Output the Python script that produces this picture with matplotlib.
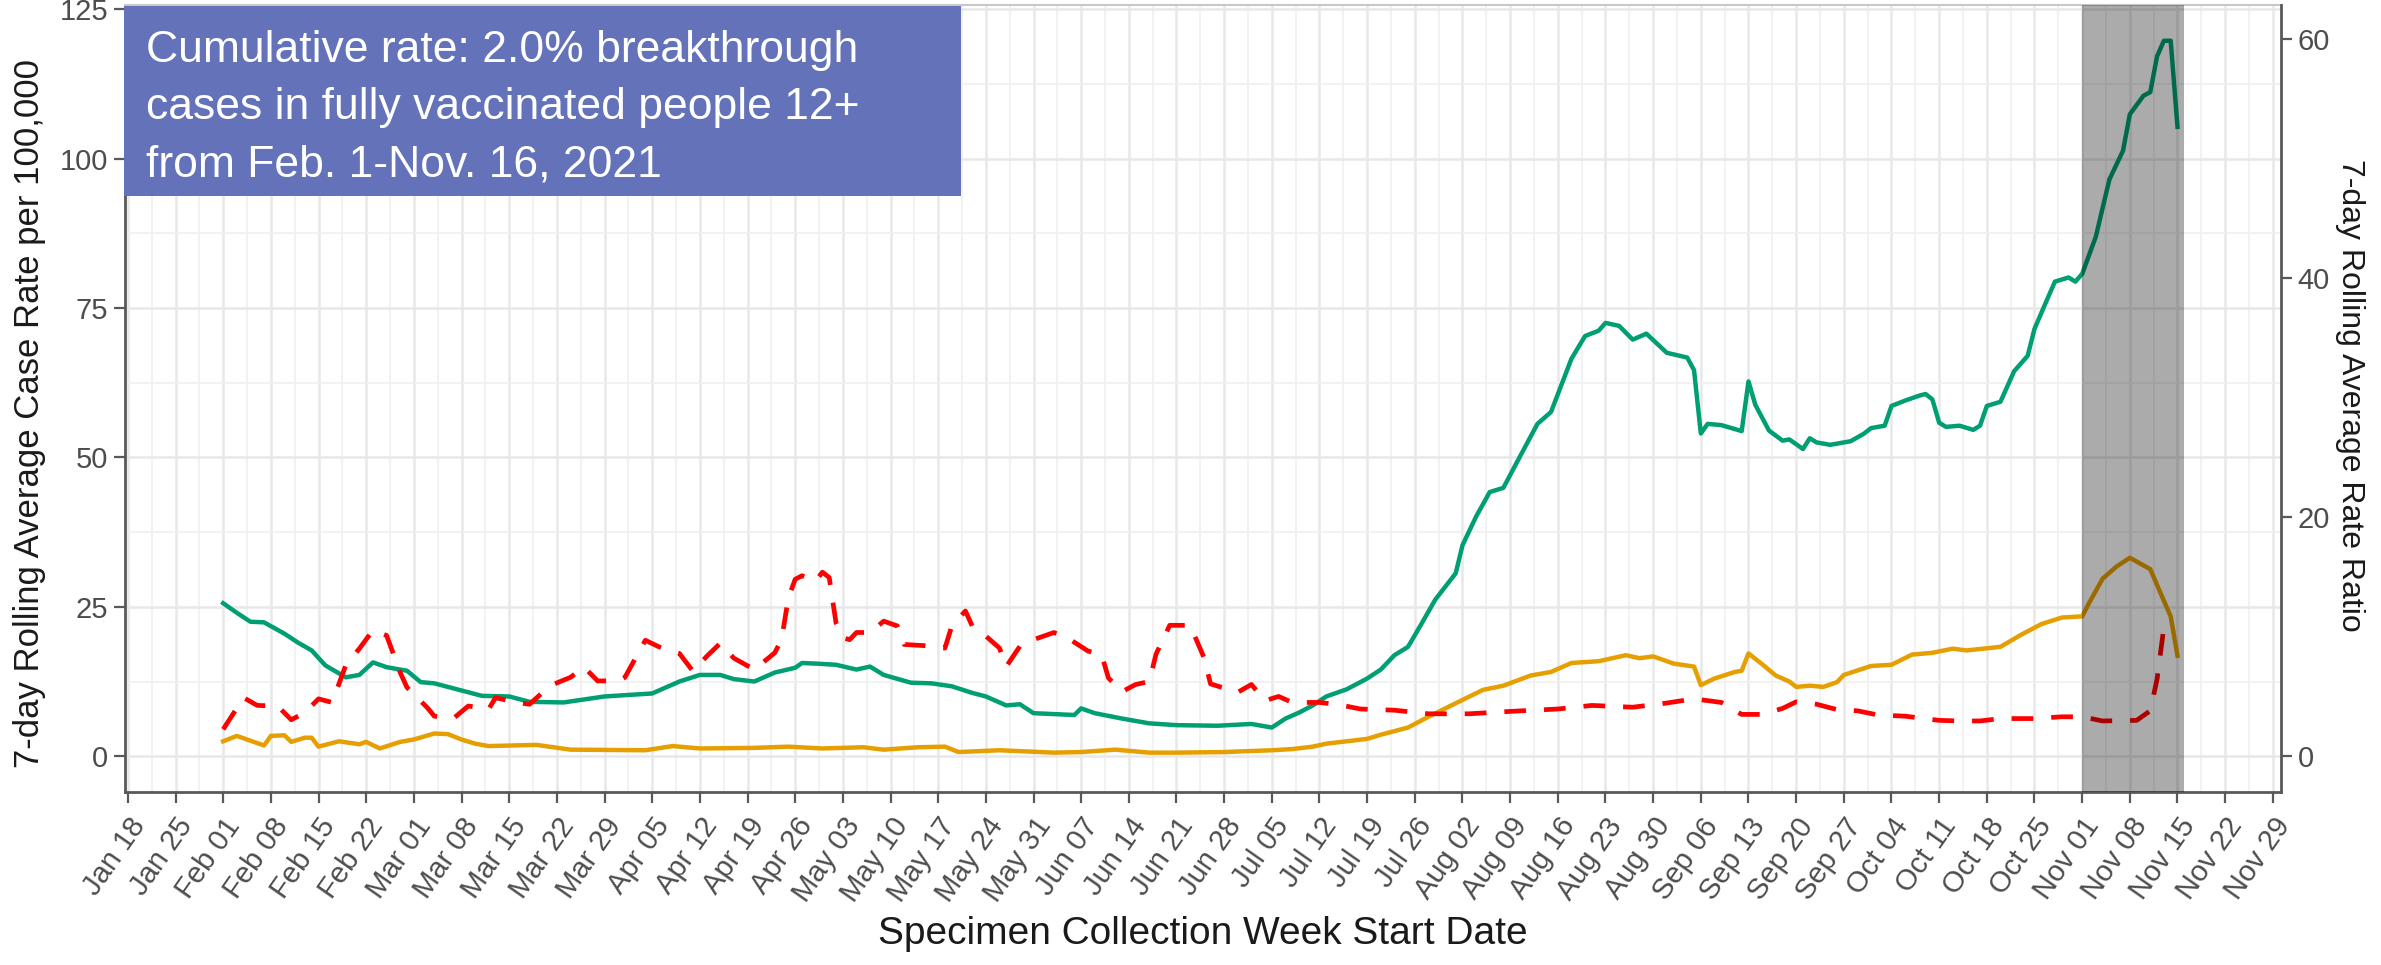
import matplotlib
matplotlib.use('Agg')
import matplotlib.pyplot as plt
import matplotlib.transforms as mtransforms
from matplotlib.patches import Rectangle
import pandas as pd

plt.rcParams['font.family'] = ['Liberation Sans', 'DejaVu Sans']

BASE = pd.Timestamp('2021-01-18')

# ---- data (x = days since 2021-01-18) ----
green_day = [14,16,18,20,23,25,27,29,32,34,36,38,41,43,45,49,52,56,59,64,
             70,77,81,84,87,89,92,95,98,99,101,104,107,109,111,115,118,121,124,126,
             129,131,133,139,140,142,146,150,154,160,165,168,170,172,174,176,179,182,184,186,
             188,190,192,195,196,198,200,202,204,207,209,212,214,216,217,219,221,223,226,229,
             230,231,232,234,237,238,239,241,243,244,246,247,248,250,253,255,256,258,259,261,
             263,264,265,266,267,269,271,272,273,275,277,279,280,282,283,285,286,287,289,291,
             293,294,296,297,298,299,300,301]
green_rate = [25.6,24.0,22.5,22.4,20.5,19.0,17.7,15.2,13.2,13.6,15.7,14.9,14.3,12.4,12.2,11.0,10.1,10.0,9.1,9.0,
              10.0,10.5,12.5,13.6,13.6,12.9,12.5,14.0,14.8,15.6,15.5,15.3,14.5,15.0,13.6,12.3,12.2,11.7,10.6,10.0,
              8.5,8.7,7.2,6.9,8.0,7.2,6.3,5.5,5.2,5.1,5.4,4.8,6.3,7.3,8.5,10.0,11.2,13.0,14.5,16.9,
              18.3,22.2,26.2,30.6,35.3,40.1,44.2,44.9,49.2,55.6,57.6,66.5,70.3,71.2,72.5,72.0,69.7,70.7,67.5,66.7,
              64.6,54.0,55.6,55.4,54.4,62.7,58.8,54.5,52.8,53.0,51.4,53.2,52.5,52.1,52.7,54.0,54.9,55.3,58.6,59.5,
              60.3,60.6,59.7,55.8,55.1,55.3,54.6,55.3,58.6,59.3,64.4,67.0,71.5,76.8,79.4,80.1,79.4,80.7,86.9,96.5,
              101.3,107.4,110.5,111.1,117.1,119.7,119.7,105.3]

orange_day = [14,16,18,20,21,23,24,26,27,28,31,34,35,37,40,42,45,47,49,51,
              53,60,65,76,80,84,92,97,102,108,111,116,120,122,128,136,140,145,150,154,
              161,168,171,174,176,182,184,188,191,194,199,202,206,209,212,216,220,222,224,227,
              230,231,233,236,237,238,240,242,244,245,247,249,251,252,256,259,262,265,268,270,
              275,278,281,284,287,288,290,292,294,297,299,300,301]
orange_rate = [2.5,3.4,2.6,1.8,3.4,3.5,2.4,3.1,3.1,1.6,2.5,2.0,2.4,1.3,2.4,2.8,3.8,3.7,2.8,2.1,
               1.7,1.9,1.1,1.0,1.7,1.3,1.4,1.6,1.3,1.5,1.1,1.5,1.6,0.7,1.0,0.6,0.7,1.1,0.6,0.6,
               0.7,1.0,1.2,1.6,2.1,2.9,3.6,4.8,6.6,8.3,11.1,11.8,13.5,14.1,15.6,15.9,16.9,16.4,16.7,15.5,
               15.0,11.9,13.0,14.1,14.3,17.2,15.4,13.5,12.5,11.6,11.8,11.6,12.4,13.6,15.1,15.3,17.0,17.3,18.0,17.7,
               18.3,20.3,22.1,23.2,23.4,25.6,29.7,31.7,33.2,31.3,26.0,23.4,16.8]

red_day = [14,17,19,22,24,26,28,30,32,34,36,38,40,41,44,45,48,50,53,54,
           57,59,62,65,67,69,72,73,76,78,81,83,85,87,89,92,95,96,97,98,
           99,101,102,103,104,105,106,107,109,111,113,114,117,120,121,123,124,126,128,129,
           131,133,136,138,141,143,144,146,148,150,151,153,156,158,159,163,165,167,169,171,
           175,178,181,186,191,197,203,210,215,221,226,230,234,237,240,243,245,248,251,254,
           257,261,266,269,272,275,280,284,287,290,295,297,298,299]
red_ratio = [2.25,4.9,4.25,4.2,3.05,3.65,4.8,4.5,7.6,9.0,10.55,10.1,7.0,5.75,4.05,3.35,3.25,4.2,3.95,4.9,
             4.5,4.35,5.9,6.6,7.45,6.3,6.3,6.6,9.7,9.15,8.6,7.1,8.35,9.45,8.2,7.25,8.65,9.75,13.25,14.8,
             15.1,14.65,15.4,14.95,11.15,9.9,9.75,10.35,10.35,11.3,10.9,9.35,9.25,9.05,10.9,12.15,10.9,10.05,9.05,7.5,
             9.2,9.75,10.35,9.9,8.8,8.5,6.55,5.4,6.0,6.25,8.55,10.95,10.95,8.3,6.05,5.35,6.0,4.65,5.0,4.5,
             4.5,4.3,3.95,3.85,3.55,3.55,3.75,3.95,4.25,4.1,4.45,4.8,4.5,3.5,3.5,4.0,4.55,4.35,3.9,3.8,
             3.45,3.35,3.0,2.95,2.95,3.15,3.15,3.3,3.3,2.95,3.0,3.8,6.45,10.8]

assert len(green_day) == len(green_rate)
assert len(orange_day) == len(orange_rate)
assert len(red_day) == len(red_ratio)

week_ticks = pd.date_range('2021-01-18', '2021-11-29', freq='7D')
left_ticks = [0, 25, 50, 75, 100, 125]
right_ticks = [0, 20, 40, 60]
shade_start, shade_end = pd.Timestamp('2021-11-01'), pd.Timestamp('2021-11-16')

box_lines = ["Cumulative rate: 2.0% breakthrough",
             "cases in fully vaccinated people 12+",
             "from Feb. 1-Nov. 16, 2021"]

def to_dates(days):
    return BASE + pd.to_timedelta(days, unit='D')

# ---- figure ----
W, H = 2381, 965
fig = plt.figure(figsize=(W / 100, H / 100), dpi=100)
fig.patch.set_facecolor('white')
L, R, B, T = 125, 2281, 792, 5
ax = fig.add_axes([L / W, 1 - B / H, (R - L) / W, (B - T) / H])

ylo, yhi = -5.985, 125.685
ax.set_ylim(ylo, yhi)
ax.set_xlim(BASE - pd.Timedelta(hours=10), BASE + pd.Timedelta(days=316.2))

ax.plot(to_dates(green_day), green_rate, color='#009E73', lw=3.2,
        solid_joinstyle='round', zorder=3)
ax.plot(to_dates(orange_day), orange_rate, color='#E69F00', lw=3.2,
        solid_joinstyle='round', zorder=3)

# grid
ax.set_xticks(week_ticks)
minor_x = week_ticks[:-1] + pd.Timedelta(hours=84)
ax.set_xticks(minor_x, minor=True)
ax.set_yticks(left_ticks)
ax.set_yticks([12.5, 37.5, 62.5, 87.5, 112.5], minor=True)
ax.grid(which='major', color='#e8e8e8', lw=1.8, zorder=0)
ax.grid(which='minor', color='#f0f0f0', lw=1.2, zorder=0)
ax.set_axisbelow(True)

ax.set_xticklabels([d.strftime('%b %d') for d in week_ticks], rotation=55,
                   ha='right', va='top', rotation_mode='anchor')
off = mtransforms.ScaledTranslation(0.14, 0, fig.dpi_scale_trans)
for lab in ax.get_xticklabels():
    lab.set_transform(lab.get_transform() + off)

ax.tick_params(axis='both', which='major', length=8, width=1.6, color='#595959',
               labelcolor='#4d4d4d', labelsize=21)
ax.tick_params(axis='x', which='major', pad=7)
ax.tick_params(axis='y', which='major', pad=4)
ax.tick_params(which='minor', length=0)

for s in ['left', 'bottom']:
    ax.spines[s].set_color('#595959')
    ax.spines[s].set_linewidth(2.0)
ax.spines['top'].set_color('#c8c8c8')
ax.spines['top'].set_linewidth(1.5)
ax.spines['right'].set_visible(False)

# secondary axis (rate ratio)
ax2 = ax.twinx()
ax2.set_ylim(ylo / 2, yhi / 2)
ax2.plot(to_dates(red_day), red_ratio, color='#FF0000', lw=3.4,
         dashes=(4.6, 3.8), zorder=3)
ax2.set_yticks(right_ticks)
ax2.tick_params(axis='y', length=8, width=1.6, color='#595959',
                labelcolor='#4d4d4d', labelsize=21, pad=4)
for s in ['left', 'bottom', 'top']:
    ax2.spines[s].set_visible(False)
ax2.spines['right'].set_color('#595959')
ax2.spines['right'].set_linewidth(2.0)

# shaded incomplete-data window (drawn over the lines)
ax2.axvspan(shade_start, shade_end, color='black', alpha=0.33, lw=0, zorder=5)

# axis titles
fig.text(1203 / W, 1 - 944 / H, 'Specimen Collection Week Start Date',
         ha='center', va='baseline', fontsize=28, color='#1a1a1a')
fig.text(30 / W, 1 - 414 / H, '7-day Rolling Average Case Rate per 100,000',
         ha='center', va='center', rotation=90, fontsize=25, color='#1a1a1a')
fig.text(2350 / W, 1 - 395 / H, '7-day Rolling Average Rate Ratio',
         ha='center', va='center', rotation=-90, fontsize=23, color='#1a1a1a')

# annotation box
fig.patches.append(Rectangle((124 / W, 1 - 196 / H), (961 - 124) / W, (196 - 6) / H,
                             transform=fig.transFigure, facecolor='#6372B9',
                             edgecolor='none', zorder=10))
for i, line in enumerate(box_lines):
    fig.text(146 / W, 1 - (62 + i * 57.5) / H, line, ha='left', va='baseline',
             fontsize=32, color='white', zorder=11)

fig.savefig('out.png', dpi=100, facecolor='white')
